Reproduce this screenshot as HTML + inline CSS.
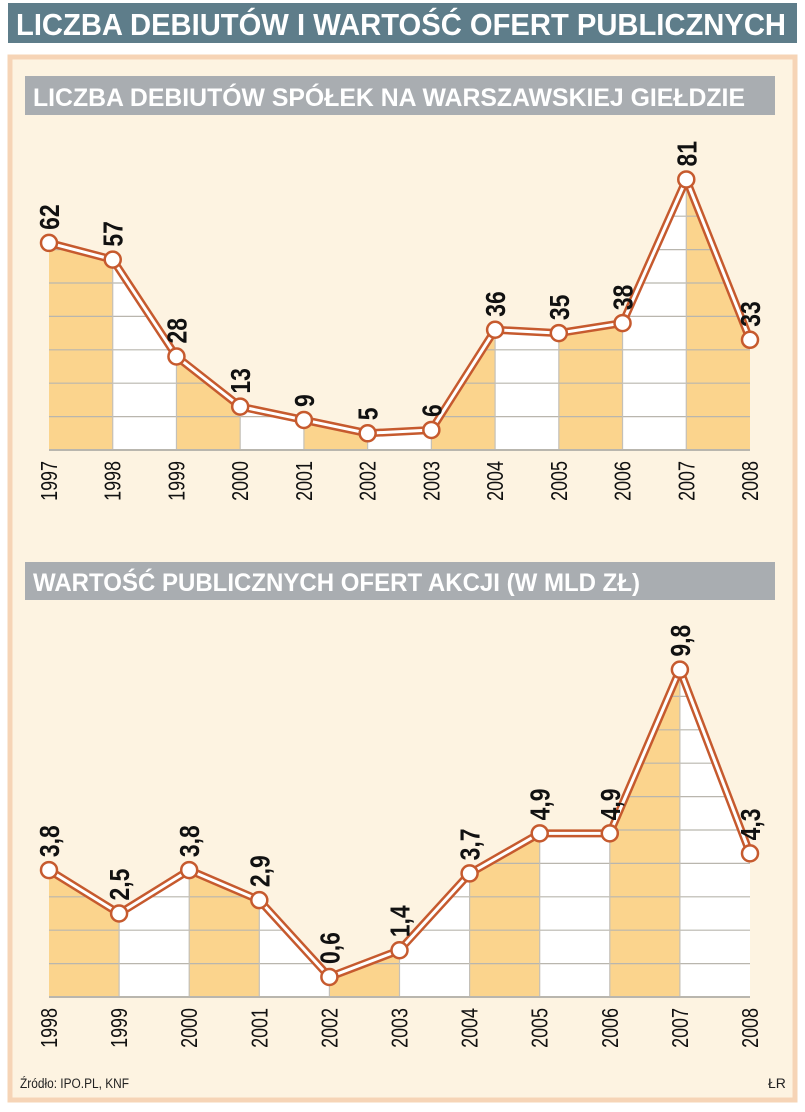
<!DOCTYPE html>
<html><head><meta charset="utf-8"><style>
body{margin:0;width:805px;height:1112px;background:#fff;overflow:hidden;font-family:"Liberation Sans",sans-serif}
svg{display:block}
</style></head><body>
<svg width="805" height="1112">
<rect x="8" y="3" width="789" height="40" fill="#5e7d8a"/>
<text x="16" y="35" font-size="31" font-weight="bold" fill="#fff" textLength="770" lengthAdjust="spacingAndGlyphs">LICZBA DEBIUTÓW I WARTOŚĆ OFERT PUBLICZNYCH</text>
<rect x="10" y="57" width="785" height="1043" fill="#fdf3e1" stroke="#f6d4b6" stroke-width="5"/>
<rect x="25" y="76" width="750" height="39" fill="#a9adb1"/>
<text x="33" y="106" font-size="25" font-weight="bold" fill="#fff" textLength="712" lengthAdjust="spacingAndGlyphs">LICZBA DEBIUTÓW SPÓŁEK NA WARSZAWSKIEJ GIEŁDZIE</text>
<rect x="25" y="562" width="750" height="38" fill="#a9adb1"/>
<text x="33" y="591" font-size="25" font-weight="bold" fill="#fff" textLength="607" lengthAdjust="spacingAndGlyphs">WARTOŚĆ PUBLICZNYCH OFERT AKCJI (W MLD ZŁ)</text>
<g id="c1"></g>
<g id="c2"></g>
<text x="20" y="1088" font-size="14" fill="#222" transform="translate(20,1088) scale(0.85,1) translate(-20,-1088)">Źródło: IPO.PL, KNF</text>
<text x="768" y="1088" font-size="14" fill="#222">ŁR</text>
</svg>
<script>
const years1=["1997","1998","1999","2000","2001","2002","2003","2004","2005","2006","2007","2008"];
const values1=[62,57,28,13,9,5,6,36,35,38,81,33];
const labels1=["62","57","28","13","9","5","6","36","35","38","81","33"];
const years2=["1998","1999","2000","2001","2002","2003","2004","2005","2006","2007","2008"];
const values2=[3.8,2.5,3.8,2.9,0.6,1.4,3.7,4.9,4.9,9.8,4.3];
const labels2=["3,8","2,5","3,8","2,9","0,6","1,4","3,7","4,9","4,9","9,8","4,3"];
const NS="http://www.w3.org/2000/svg";
function mk(p,t,a){const e=document.createElementNS(NS,t);for(const k in a)e.setAttribute(k,a[k]);p.appendChild(e);return e;}
function draw(gid,cats,vals,labs,base,unitPx,gridStep,x0,x1){
 const g=document.getElementById(gid);
 const n=cats.length,step=(x1-x0)/(n-1);
 const X=i=>x0+i*step, Y=v=>base-v*unitPx;
 const maxV=Math.max(...vals);
 for(let i=0;i<n-1;i++){
  const poly=`${X(i)},${base} ${X(i)},${Y(vals[i])} ${X(i+1)},${Y(vals[i+1])} ${X(i+1)},${base}`;
  const p=mk(g,'polygon',{points:poly,fill:i%2==0?'#fbd48d':'#ffffff'});
  
  
 }
 const clip=mk(g,'clipPath',{id:gid+'clip'});
 mk(clip,'polygon',{points:`${X(0)},${base} `+vals.map((v,i)=>X(i)+','+Y(v)).join(' ')+` ${X(n-1)},${base}`});
 const gg=mk(g,'g',{'clip-path':`url(#${gid}clip)`});
 for(let v=gridStep;v<=maxV;v+=gridStep){
  const l=mk(gg,'line',{x1:X(0),x2:X(n-1),y1:Y(v),y2:Y(v),stroke:'#b9b6ae','stroke-width':1.2});
  
  
 }
 for(let i=1;i<n-1;i++){mk(gg,'line',{x1:X(i),x2:X(i),y1:0,y2:base,stroke:'#c4c0b8','stroke-width':1.2});}
 mk(g,'line',{x1:X(0),x2:X(n-1),y1:base,y2:base,stroke:'#b9b6ae','stroke-width':2});
 const pts=vals.map((v,i)=>X(i)+','+Y(v)).join(' ');
 const o=mk(g,'polyline',{points:pts,fill:'none',stroke:'#c65a2e','stroke-width':8,'stroke-linejoin':'round'});
 
 
 mk(g,'polyline',{points:pts,fill:'none',stroke:'#fff','stroke-width':3,'stroke-linejoin':'round'});
 vals.forEach((v,i)=>{
  const c=mk(g,'circle',{cx:X(i),cy:Y(v),r:8,fill:'#fff',stroke:'#c65a2e','stroke-width':2.5});
  
  
  const t=mk(g,'text',{x:0,y:0,'font-size':28,'font-weight':'bold',fill:'#111',transform:`translate(${X(i)+10},${Y(v)-13}) rotate(-90) scale(0.82,1)`});
  t.textContent=labs[i];
  
  
  const yl=mk(g,'text',{x:0,y:0,'font-size':23,fill:'#111','text-anchor':'end',transform:`translate(${X(i)+8},${base+11}) rotate(-90) scale(0.78,1)`});
  yl.textContent=cats[i];
  
  
 });
}
draw('c1',years1,values1,labels1,450,3.34,10,49,750);
draw('c2',years2,values2,labels2,997,33.4,1,49,750);
</script>
</body></html>
